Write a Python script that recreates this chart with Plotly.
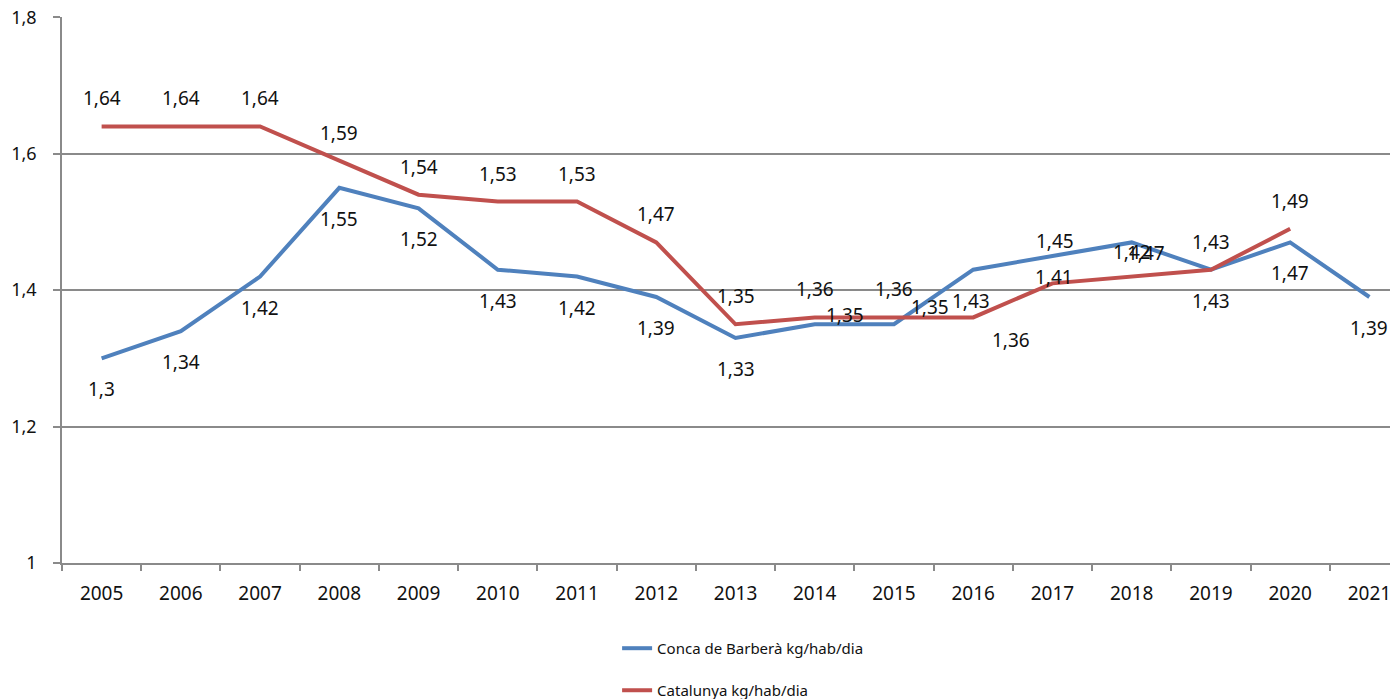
import plotly.graph_objects as go

years = [str(y) for y in range(2005, 2022)]
conca = [1.30, 1.34, 1.42, 1.55, 1.52, 1.43, 1.42, 1.39, 1.33, 1.35, 1.35, 1.43, 1.45, 1.47, 1.43, 1.47, 1.39]
catalunya = [1.64, 1.64, 1.64, 1.59, 1.54, 1.53, 1.53, 1.47, 1.35, 1.36, 1.36, 1.36, 1.41, 1.42, 1.43, 1.49, None]
ytick_vals = [1, 1.2, 1.4, 1.6, 1.8]
ytick_text = ["1", "1,2", "1,4", "1,6", "1,8"]
name_conca = "Conca de Barberà kg/hab/dia"
name_cat = "Catalunya kg/hab/dia"

BLUE = "#4F81BD"
RED = "#C0504D"
GRID = "#8A8A8A"
FONT = "Noto Sans"

# label offsets in pixels (dx right, dy down) – mimic the manual placement
blue_off = {i: (0, 31) for i in range(len(years))}
blue_off.update({9: (30, -9), 10: (36, -17), 11: (-2, 31), 12: (3, -15), 13: (14, 11)})
red_off = {i: (0, -28) for i in range(len(years))}
red_off.update({11: (38, 23), 12: (2, -6), 13: (0, -25)})

fig = go.Figure()
fig.add_trace(go.Scatter(x=years, y=conca, mode="lines", name=name_conca,
                         line=dict(color=BLUE, width=4), legend="legend"))
fig.add_trace(go.Scatter(x=years, y=catalunya, mode="lines", name=name_cat,
                         line=dict(color=RED, width=4), legend="legend2"))

def fmt(v):
    return f"{v:g}".replace(".", ",")

annotations = []
for series, offs in ((conca, blue_off), (catalunya, red_off)):
    for i, v in enumerate(series):
        if v is None:
            continue
        dx, dy = offs[i]
        # category axis: position by category index
        annotations.append(dict(x=i, y=v, xref="x", yref="y", text=fmt(v),
                                showarrow=False, xshift=dx, yshift=-dy,
                                font=dict(family=FONT, size=19, color="#111111")))

fig.update_layout(
    template="none",
    width=1390, height=707,
    margin=dict(l=62, r=0, t=17, b=138),
    paper_bgcolor="white", plot_bgcolor="white",
    font=dict(family=FONT, color="#111111"),
    hovermode=False,
    showlegend=True,
    legend=dict(x=0.418, y=-0.1565, xanchor="left", yanchor="middle",
                font=dict(family=FONT, size=15, color="#111111"), bgcolor="rgba(0,0,0,0)"),
    legend2=dict(x=0.418, y=-0.2335, xanchor="left", yanchor="middle",
                 font=dict(family=FONT, size=15, color="#111111"), bgcolor="rgba(0,0,0,0)"),
    annotations=annotations,
    xaxis=dict(type="category", range=[-0.5, 16.26], showgrid=False, automargin=False,
               showline=True, linecolor=GRID, linewidth=1.5,
               ticks="outside", tickson="boundaries", ticklen=6, tickcolor=GRID, tickwidth=1.5,
               ticklabelstandoff=12, ticklabeloverflow="allow",
               tickfont=dict(family=FONT, size=19, color="#111111")),
    yaxis=dict(range=[1, 1.8005], tickvals=ytick_vals, ticktext=ytick_text, automargin=False,
               showgrid=True, gridcolor=GRID, gridwidth=1.5,
               showline=True, linecolor=GRID, linewidth=1.5,
               ticks="outside", ticklen=7, tickcolor=GRID, tickwidth=1.5,
               ticklabelstandoff=13, zeroline=False, ticklabeloverflow="allow",
               tickfont=dict(family=FONT, size=18, color="#111111")),
)

fig.write_html(
    "out.html",
    config={"displayModeBar": False, "responsive": False},
    post_script=(
        "var d=document.querySelector('.plotly-graph-div');"
        "d.style.position='fixed';d.style.left='0px';d.style.top='0px';"
        "document.body.style.margin='0';document.body.style.overflow='hidden';"
    ),
)
